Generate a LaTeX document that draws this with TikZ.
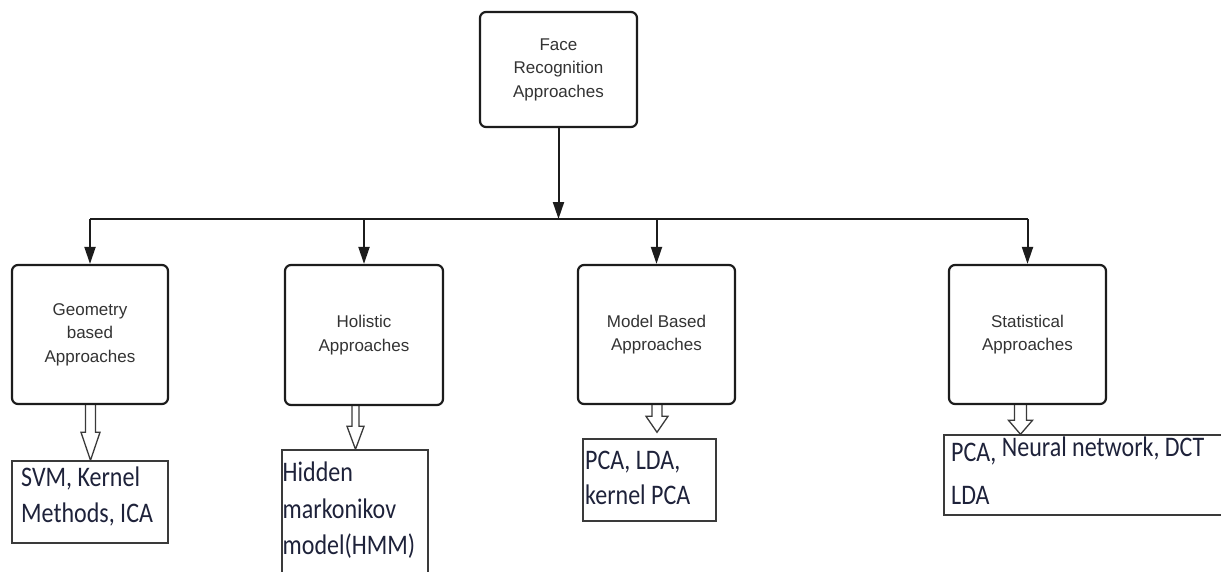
\documentclass[tikz,border=0pt]{standalone}
\usepackage{fontspec}
\setmainfont{Liberation Sans}
\newfontfamily\listfont{Carlito}
\usetikzlibrary{arrows.meta,calc,backgrounds}

\definecolor{ink}{HTML}{1C1C1C}
\definecolor{labelgray}{HTML}{333333}
\definecolor{listink}{RGB}{30,34,58}
\definecolor{boxline}{HTML}{3A3A3A}

% multi-line list text, slightly stretched vertically
\newcommand\listlines[2]{\scalebox{1}[1.18]{\listfont\fontsize{24}{#1}\selectfont\begin{tabular}{@{}l@{}}#2\end{tabular}}}

% open (outlined) arrow from the bottom of one node towards the top of another
% #1 from, #2 to, #3 x, #4 shaft half width, #5 head half width, #6 head length, #7 gap
\newcommand\hollowlink[7]{%
  \draw[hollow] let \p1=(#1.south), \p2=(#2.north) in
    ({#3pt-#4pt},\y1) -- ({#3pt-#4pt},{\y2+#7pt+#6pt}) -- ({#3pt-#5pt},{\y2+#7pt+#6pt})
    -- ({#3pt},{\y2+#7pt}) -- ({#3pt+#5pt},{\y2+#7pt+#6pt}) -- ({#3pt+#4pt},{\y2+#7pt+#6pt})
    -- ({#3pt+#4pt},\y1);}

\begin{document}
\begin{tikzpicture}[x=1pt,y=1pt,
  mainbox/.style={draw=ink, line width=2.2pt, rounded corners=6pt, fill=white,
    align=center, text=labelgray, inner sep=0pt,
    font=\fontsize{17}{23.5}\selectfont},
  listbox/.style={draw=boxline, line width=1.4pt, fill=white, inner sep=0pt},
  listtext/.style={anchor=north west, inner sep=0pt, text=listink},
  feed/.style={draw=ink, line width=2pt, -{Triangle[length=17pt,width=11pt]}},
  hollow/.style={draw=boxline, line width=1.3pt, fill=white, line join=miter}
]
\useasboundingbox (0,0) rectangle (1221,-571);
\clip (0,0) rectangle (1221,-571);

% root
\node[mainbox, minimum width=157, minimum height=115] (face) at (558.5,-69.5)
  {Face\\Recognition\\Approaches};

% approach families
\node[mainbox, minimum width=156, minimum height=139] (geo) at (90,-334.5)
  {Geometry\\based\\Approaches};
\node[mainbox, minimum width=158, minimum height=140] (hol) at (364,-335)
  {Holistic\\Approaches};
\node[mainbox, minimum width=157, minimum height=139] (mod) at (656.5,-334.5)
  {Model Based\\Approaches};
\node[mainbox, minimum width=157, minimum height=139] (sta) at (1027.5,-334.5)
  {Statistical\\Approaches};

% method lists
\node[listbox, minimum width=156, minimum height=82] (svm) at (90,-502) {};
\node[listbox, minimum width=146, minimum height=130] (hmm) at (355,-515) {};
\node[listbox, minimum width=133, minimum height=82] (pca) at (649.5,-480) {};
\node[listbox, minimum width=286, minimum height=80] (stat) at (1087,-475) {};

\node[listtext] (svmtext) at (21,-461.5)
  {\listlines{30.5}{SVM, Kernel\\Methods, ICA}};
\node[listtext] (hmmtext) at (282.5,-456.3)
  {\listlines{30.8}{Hidden\\markonikov\\model(HMM)}};
\node[listtext] (pcatext) at (585,-445)
  {\listlines{29.4}{PCA, LDA,\\kernel PCA}};
\node[listtext] (stattext) at (951,-431.5)
  {\listlines{30.5}{\raisebox{-4.2pt}{PCA,} Neural network, DCT\\[9.6pt]LDA}};

% distribution bus
\coordinate (busL) at (90,-219);
\coordinate (busR) at (1028,-219);
\draw[ink, line width=2pt] (busL) -- (busR);
\draw[feed] (face.south) -- (face.south |- busL);
\draw[feed] (geo.north |- busL) -- (geo.north);
\draw[feed] (hol.north |- busL) -- (hol.north);
\draw[feed] (mod.north |- busL) -- (mod.north);
\draw[feed] (sta.north |- busL) -- (sta.north);

% open arrows to the method lists, kept behind the boxes
\begin{pgfonlayer}{background}
\hollowlink{geo}{svm}{90.5}{5}{9.5}{28}{0}
\hollowlink{hol}{hmm}{355.5}{3.5}{8.5}{23}{0}
\hollowlink{mod}{pca}{657}{5}{11}{16}{6}
\hollowlink{sta}{stat}{1020.5}{6}{12}{14}{0}
\end{pgfonlayer}
\end{tikzpicture}
\end{document}
